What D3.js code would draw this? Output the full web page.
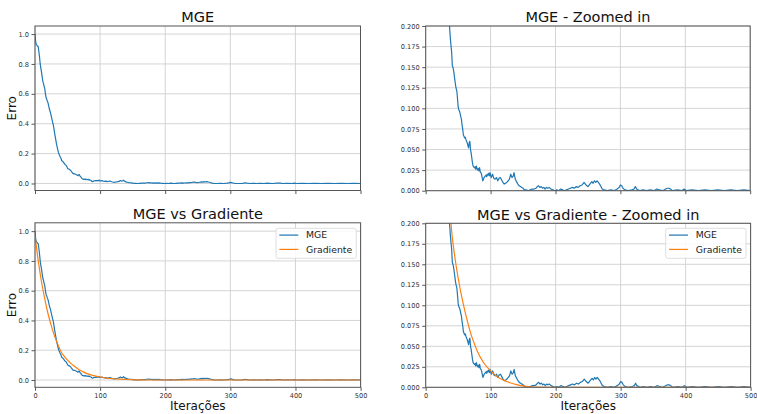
<!DOCTYPE html>
<html>
<head>
<meta charset="utf-8">
<script src="https://cdn.jsdelivr.net/npm/d3@7"></script>
<style>
  html, body { margin: 0; padding: 0; background: #fff; }
  svg { display: block; font-family: "DejaVu Sans", sans-serif; }
</style>
</head>
<body>
<svg id="fig" width="757" height="414"></svg>
<script>
// Error per iteration for the stochastic run (MGE)
const mgeIter = [
  0,1,2,3,4,5,6,7,8,9,10,11,12,13,14,15,16,17,18,19,20,21,22,23,24,25,26,27,28,29,
  30,31,32,33,34,35,36,37,38,39,40,41,42,43,44,45,46,47,48,49,50,51,52,53,54,55,56,57,58,59,
  60,61,62,63,64,65,66,67,68,69,70,71,72,73,74,75,76,77,78,79,80,81,82,83,84,85,86,87,88,89,
  90,91,92,93,94,95,96,97,98,99,100,101,103,105,107,109,111,113,115,117,119,121,123,125,127,129,
  131,133,135,136,138,140,142,144,146,148,150,152,155,158,161,164,167,170,172,174,176,178,180,182,
  184,186,188,190,193,196,199,202,205,208,211,214,217,220,223,226,229,232,235,238,241,244,247,250,
  253,256,258,260,262,264,266,268,270,272,275,280,285,290,295,298,300,302,304,307,312,318,321,323,
  325,330,335,340,346,352,356,360,365,372,375,377,380,388,395,398,402,410,420,430,440,450,460,470,
  480,490,500
];
const mgeErro = [
  1.000,0.950,0.930,0.925,0.920,0.915,0.880,0.845,0.800,0.770,0.745,0.715,0.685,0.670,0.650,0.635,0.600,0.575,0.565,0.550,
  0.540,0.520,0.500,0.485,0.470,0.450,0.430,0.410,0.395,0.370,0.340,0.315,0.290,0.265,0.245,0.225,0.208,0.196,0.185,0.176,
  0.168,0.152,0.150,0.146,0.140,0.134,0.128,0.124,0.121,0.112,0.102,0.098,0.097,0.094,0.090,0.087,0.080,0.075,0.068,0.066,
  0.064,0.065,0.062,0.060,0.058,0.055,0.052,0.058,0.060,0.050,0.046,0.040,0.034,0.030,0.029,0.028,0.029,0.026,0.030,0.027,
  0.025,0.027,0.024,0.028,0.023,0.022,0.020,0.016,0.012,0.014,0.016,0.017,0.018,0.019,0.017,0.020,0.019,0.021,0.018,0.022,
  0.019,0.016,0.020,0.015,0.014,0.016,0.012,0.015,0.016,0.013,0.010,0.008,0.009,0.010,0.012,0.014,0.020,0.016,0.018,0.022,
  0.014,0.011,0.008,0.006,0.005,0.004,0.003,0.001,0.001,0.000,0.001,0.002,0.002,0.003,0.005,0.006,0.004,0.005,0.003,0.004,
  0.002,0.004,0.003,0.004,0.002,0.001,0.000,0.001,0.000,0.002,0.001,0.000,0.001,0.002,0.003,0.004,0.003,0.005,0.004,0.006,
  0.007,0.010,0.007,0.005,0.008,0.011,0.009,0.012,0.010,0.012,0.010,0.008,0.005,0.002,0.001,0.000,0.001,0.000,0.002,0.004,
  0.007,0.006,0.003,0.001,0.000,0.001,0.002,0.005,0.002,0.000,0.001,0.000,0.001,0.000,0.002,0.001,0.000,0.003,0.003,0.002,
  0.000,0.001,0.000,0.002,0.000,0.001,0.000,0.001,0.000,0.001,0.000,0.001,0.000,0.001,0.000
];

// Error per iteration for plain gradient descent
const gradIter = [0,5,10,15,20,25,30,35,40,45,50,55,60,65,70,75,80,90,100,110,120,130,140,150,160,170,200,300,400,500];
const gradErro = [0.970,0.800,0.660,0.545,0.445,0.365,0.295,0.240,0.190,0.158,0.133,0.112,0.094,0.078,0.064,0.053,0.043,0.029,0.020,0.013,0.0085,0.0055,0.0033,0.0017,0.0006,0.0001,0,0,0,0];

const xTicks = [0, 100, 200, 300, 400, 500];
const yTicksFull = [0.0, 0.2, 0.4, 0.6, 0.8, 1.0];
const yTicksZoom = [0.000, 0.025, 0.050, 0.075, 0.100, 0.125, 0.150, 0.175, 0.200];

const blue = "#1f77b4", orange = "#ff7f0e";
const svg = d3.select("#fig");

const mge = mgeIter.map((t, i) => ({ t, v: mgeErro[i] }));
const grad = gradIter.map((t, i) => ({ t, v: gradErro[i] }));

const panels = [
  { id: "a", title: "MGE", box: [35, 26, 360.5, 190.5], yDomain: [-0.047, 1.054], yTicks: yTicksFull, fmt: ".1f",
    series: [mge], ylabel: true, xlabels: false, legend: null },
  { id: "b", title: "MGE - Zoomed in", box: [425.7, 26, 750.2, 190.7], yDomain: [0, 0.2], yTicks: yTicksZoom, fmt: ".3f",
    series: [mge], ylabel: false, xlabels: false, legend: null },
  { id: "c", title: "MGE vs Gradiente", box: [35, 222.8, 360.6, 387.3], yDomain: [-0.049, 1.056], yTicks: yTicksFull, fmt: ".1f",
    series: [mge, grad], ylabel: true, xlabels: true, legend: [276, 228.3] },
  { id: "d", title: "MGE vs Gradiente - Zoomed in", box: [425.7, 223.3, 750.6, 387.3], yDomain: [0, 0.2], yTicks: yTicksZoom, fmt: ".3f",
    series: [mge, grad], ylabel: false, xlabels: true, legend: [665.7, 228.3] }
];

const colors = [blue, orange];
const names = ["MGE", "Gradiente"];

panels.forEach(p => {
  const [x0, y0, x1, y1] = p.box;
  const x = d3.scaleLinear().domain([0, 500]).range([x0, x1]);
  const y = d3.scaleLinear().domain(p.yDomain).range([y1, y0]);
  const g = svg.append("g");

  // grid
  g.append("g").selectAll("line").data(xTicks).join("line")
    .attr("x1", d => x(d)).attr("x2", d => x(d)).attr("y1", y0).attr("y2", y1)
    .attr("stroke", "#cfcfcf").attr("stroke-width", 0.9);
  g.append("g").selectAll("line").data(p.yTicks).join("line")
    .attr("x1", x0).attr("x2", x1).attr("y1", d => y(d)).attr("y2", d => y(d))
    .attr("stroke", "#cfcfcf").attr("stroke-width", 0.9);

  // clipped data lines
  svg.append("clipPath").attr("id", "clip-" + p.id)
    .append("rect").attr("x", x0).attr("y", y0).attr("width", x1 - x0).attr("height", y1 - y0);
  const line = d3.line().x(d => x(d.t)).y(d => y(d.v));
  const smooth = d3.line().x(d => x(d.t)).y(d => y(d.v)).curve(d3.curveMonotoneX);
  p.series.forEach((s, i) => {
    g.append("path").datum(s)
      .attr("clip-path", `url(#clip-${p.id})`)
      .attr("d", i === 0 ? line : smooth)
      .attr("fill", "none").attr("stroke", colors[i]).attr("stroke-width", 1.2)
      .attr("stroke-linejoin", "round");
  });

  // axes
  const xAxis = d3.axisBottom(x).tickValues(xTicks).tickSize(3.5).tickPadding(2.5)
    .tickFormat(p.xlabels ? d3.format("d") : () => "");
  const yAxis = d3.axisLeft(y).tickValues(p.yTicks).tickSize(3.5).tickPadding(2.5)
    .tickFormat(d3.format(p.fmt));
  [g.append("g").attr("transform", `translate(0,${y1})`).call(xAxis),
   g.append("g").attr("transform", `translate(${x0},0)`).call(yAxis)].forEach(a => {
    a.select(".domain").remove();
    a.selectAll(".tick line").attr("stroke", "#444").attr("stroke-width", 0.9);
    a.selectAll(".tick text").attr("font-size", 6.6).attr("fill", "#333")
      .attr("font-family", "DejaVu Sans, sans-serif");
  });

  // frame
  g.append("rect").attr("x", x0).attr("y", y0).attr("width", x1 - x0).attr("height", y1 - y0)
    .attr("fill", "none").attr("stroke", "#555").attr("stroke-width", 1);

  // title and labels
  g.append("text").attr("x", (x0 + x1) / 2).attr("y", y0 - 3.8)
    .attr("text-anchor", "middle").attr("font-size", 14.5).attr("fill", "#111").text(p.title);
  if (p.ylabel) {
    g.append("text").attr("transform", `translate(16,${(y0 + y1) / 2}) rotate(-90)`)
      .attr("text-anchor", "middle").attr("font-size", 12).attr("fill", "#111").text("Erro");
  }
  if (p.xlabels) {
    g.append("text").attr("x", (x0 + x1) / 2).attr("y", 410)
      .attr("text-anchor", "middle").attr("font-size", 12).attr("fill", "#111").text("Iterações");
  }

  // legend
  if (p.legend) {
    const [lx, ly] = p.legend;
    const lg = g.append("g").attr("transform", `translate(${lx},${ly})`);
    lg.append("rect").attr("width", 80.3).attr("height", 30).attr("rx", 2)
      .attr("fill", "#fff").attr("fill-opacity", 0.85).attr("stroke", "#d6d6d6").attr("stroke-width", 0.8);
    names.forEach((n, i) => {
      const yy = 6.8 + i * 14.3;
      lg.append("line").attr("x1", 3.3).attr("x2", 22.3).attr("y1", yy).attr("y2", yy)
        .attr("stroke", colors[i]).attr("stroke-width", 1.2);
      lg.append("text").attr("x", 30).attr("y", yy + 3.4).attr("font-size", 9.3).attr("fill", "#222").text(n);
    });
  }
});
</script>
</body>
</html>
